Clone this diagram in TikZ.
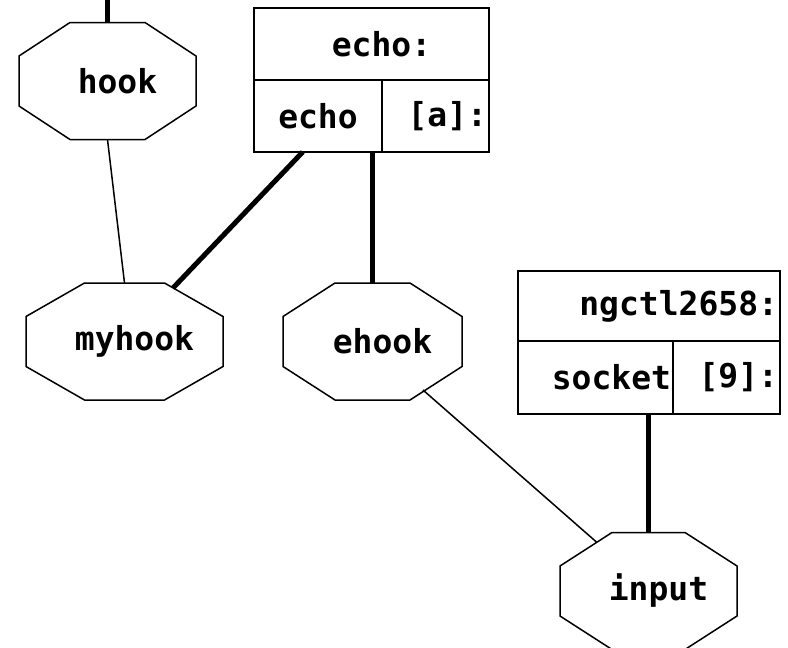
\documentclass[tikz,border=0pt]{standalone}
\usepackage{fontspec}
\setmonofont{DejaVu Sans Mono}
\usetikzlibrary{positioning}

\tikzset{
    hooknode/.style 2 args={minimum width=#1, minimum height=117pt, inner sep=0pt, outer sep=0pt,
        execute at begin node=\hspace*{20pt},
        append after command={\pgfextra{\draw[line width=1.5pt]
            ([xshift=-#2]\tikzlastnode.north) -- ([xshift=#2]\tikzlastnode.north)
            -- ([yshift=25pt]\tikzlastnode.east) -- ([yshift=-25pt]\tikzlastnode.east)
            -- ([xshift=#2]\tikzlastnode.south) -- ([xshift=-#2]\tikzlastnode.south)
            -- ([yshift=-25pt]\tikzlastnode.west) -- ([yshift=25pt]\tikzlastnode.west) -- cycle;}}},
    cell/.style={draw, line width=1.5pt, inner xsep=2pt, inner ysep=0pt, outer sep=0pt,
        minimum height=72pt, anchor=north west},
    wire/.style={line width=5pt},
    link/.style={line width=1.5pt}
}

\begin{document}
\begin{tikzpicture}[x=1pt, y=-1pt,
    every node/.style={font=\ttfamily\bfseries\fontsize{33}{40}\selectfont}]
    \useasboundingbox (0,0) rectangle (788,648);

    % hooks
    \node[hooknode={177pt}{37.5pt}] (hook) at (107.5,81) {hook};
    \node[hooknode={197pt}{40pt}] (myhook) at (124.5,341.5) {myhook};
    \node[hooknode={179pt}{37.5pt}] (ehook) at (372.5,341.5) {ehook};
    \node[hooknode={177pt}{36.5pt}] (input) at (648.5,591) {input};

    % the echo: record
    \node[cell, text width=231pt, align=center] (echotitle) at (254,8) {\hspace*{20pt}echo:};
    \node[cell, text width=124pt, align=center] (echoport) at (echotitle.south west) {echo};
    \node[cell, text width=103pt, align=right, right=0pt of echoport] (echotype) {[a]:};

    % the ngctl record
    \node[cell, text width=258pt, align=right, minimum height=70pt] (ngtitle) at (518,271) {ngctl2658:};
    \node[cell, text width=151pt, align=right, minimum height=73pt] (ngsocket) at (ngtitle.south west) {socket};
    \node[cell, text width=103pt, align=right, minimum height=73pt, right=0pt of ngsocket] (ngtype) {[9]:};

    % links
    \coordinate (top) at (107.5,0);
    \draw[wire] (top) -- (hook.north);
    \draw[link] (hook.south) -- (myhook.north);
    \draw[wire] (echoport.247) -- ([xshift=-50pt,yshift=-5pt]myhook.north east);
    \draw[wire] (ehook.north |- echoport.south) -- (ehook.north);
    \draw[link] ([xshift=-39pt,yshift=10pt]ehook.south east) -- ([xshift=37pt,yshift=-10pt]input.north west);
    \draw[wire] (input.north |- ngsocket.south) -- (input.north);
\end{tikzpicture}
\end{document}
